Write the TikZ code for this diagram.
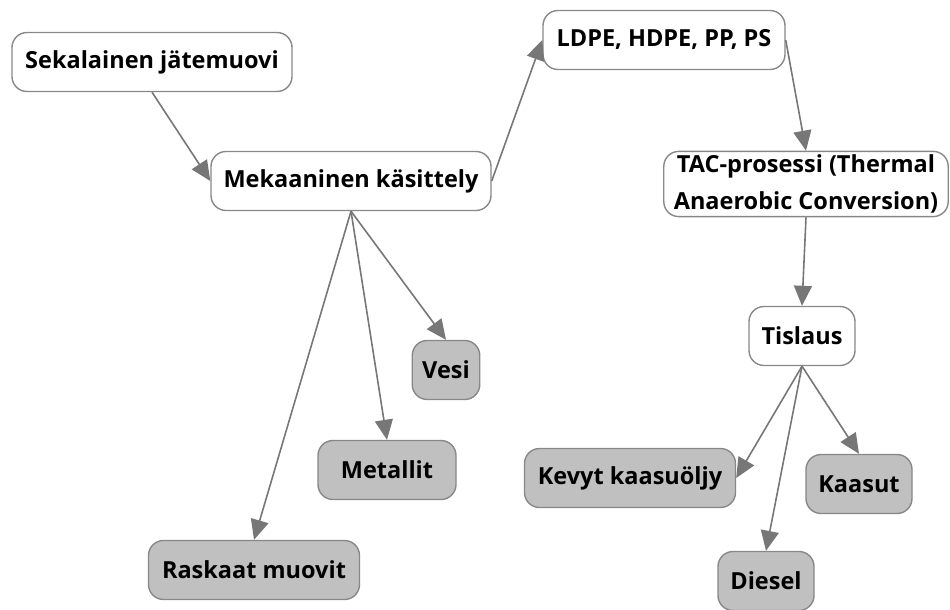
\documentclass[tikz,border=0pt]{standalone}
\usepackage{fontspec}
\setmainfont{Open Sans}
\usetikzlibrary{arrows.meta}
\definecolor{EdgeGray}{RGB}{119,119,119}
\definecolor{BorderGray}{RGB}{136,136,136}
\definecolor{LeafGray}{RGB}{192,192,192}

\begin{document}
\begin{tikzpicture}[x=1pt, y=-1pt,
    box/.style={draw=BorderGray, line width=1.4pt, rounded corners=15pt, fill=white,
        minimum height=59pt, inner xsep=10pt, font=\fontsize{23.5}{37}\selectfont\bfseries},
    leaf/.style={box, fill=LeafGray},
    flow/.style={draw=EdgeGray, line width=1.6pt, -{Triangle[length=20pt, width=18pt]}}]
    \useasboundingbox (0,0) rectangle (950,610);
    % Process chain
    \node[box, minimum width=280pt] (sekalainen) at (152,62) {Sekalainen jätemuovi};
    \node[box, minimum width=280pt] (mekaaninen) at (351,181) {Mekaaninen käsittely};
    \node[box, minimum width=242pt] (ldpe) at (664,40) {LDPE, HDPE, PP, PS};
    \node[box, align=center, minimum width=283pt] (tac) at (806,184) {TAC-prosessi (Thermal\\Anaerobic Conversion)};
    \node[box, minimum width=106pt] (tislaus) at (802,336) {Tislaus};
    % End products
    \node[leaf, minimum width=67pt] (vesi) at (446,370) {Vesi};
    \node[leaf, minimum width=138pt] (metallit) at (387,470) {Metallit};
    \node[leaf, minimum width=211pt] (raskaat) at (254,570) {Raskaat muovit};
    \node[leaf, minimum width=211pt] (kevyt) at (630,478) {Kevyt kaasuöljy};
    \node[leaf, minimum width=106pt] (kaasut) at (859,484) {Kaasut};
    \node[leaf, minimum width=96pt] (diesel) at (766,581) {Diesel};
    % Arrows
    \draw[flow] (sekalainen.south) -- (mekaaninen.west);
    \draw[flow] (mekaaninen.east) -- (ldpe.west);
    \draw[flow] (ldpe.east) -- (tac.north);
    \draw[flow] (tac.south) -- (tislaus.north);
    \foreach \leaf in {vesi, metallit, raskaat} {
        \draw[flow] (mekaaninen.south) -- (\leaf.north);
    }
    \draw[flow] (tislaus.south) -- (kevyt.east);
    \foreach \leaf in {diesel, kaasut} {
        \draw[flow] (tislaus.south) -- (\leaf.north);
    }
\end{tikzpicture}
\end{document}
